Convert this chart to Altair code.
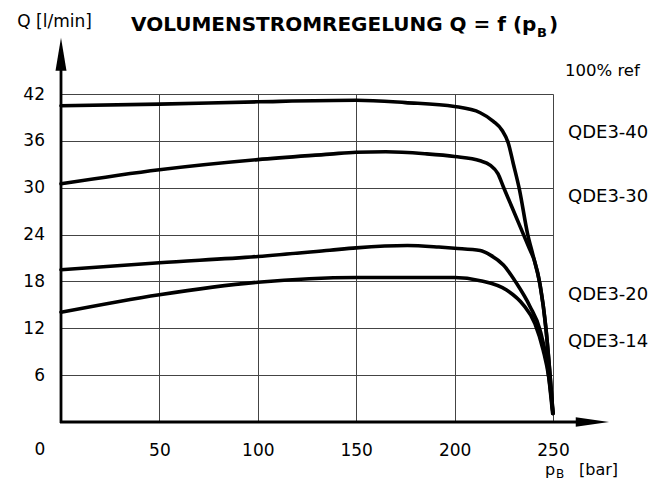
import altair as alt
import pandas as pd

# ---- data ----
p40 = [0, 50, 100, 150, 175, 200, 213, 219.7, 224, 227.3, 229.8, 233, 237, 240, 243.4, 246.4, 248.5, 250]
q40 = [40.5, 40.7, 41.0, 41.2, 40.9, 40.4, 39.6, 38.5, 37.4, 35.7, 33.1, 29.7, 24.2, 21.2, 17.6, 12.0, 6.0, 1.1]

p30 = [0, 50, 100, 136.6, 150, 165, 185, 200, 213, 218, 222, 224.8, 229, 234, 238, 240.5, 243.4, 246.4, 248.5, 250]
q30 = [30.5, 32.3, 33.6, 34.3, 34.55, 34.6, 34.35, 34.0, 33.45, 32.9, 31.8, 30.1, 27.6, 24.6, 22.2, 20.7, 17.6, 12.0, 6.0, 1.1]

p20 = [0, 50, 100, 136.6, 150, 176, 192, 200, 213, 218, 224.8, 231.5, 238.3, 243.4, 247, 249.8]
q20 = [19.5, 20.4, 21.2, 22.0, 22.3, 22.6, 22.4, 22.25, 21.95, 21.4, 20.1, 17.75, 14.8, 11.8, 7.5, 1.1]

p14 = [0, 50, 100, 150, 200, 213, 226.4, 234.9, 240.8, 245, 248, 250]
q14 = [14.05, 16.3, 17.9, 18.5, 18.5, 18.1, 16.9, 15.0, 12.6, 9.2, 5.5, 1.1]

series_names = ["QDE3-40", "QDE3-30", "QDE3-20", "QDE3-14"]
x_ticks = [0, 50, 100, 150, 200, 250]
y_ticks = [6, 12, 18, 24, 30, 36, 42]

rows = []
for name, ps, qs in zip(series_names, [p40, p30, p20, p14], [q40, q30, q20, q14]):
    for p, q in zip(ps, qs):
        rows.append({"series": name, "p": p, "q": q})
df = pd.DataFrame(rows)

W, H = 492, 328
FONT = "DejaVu Sans"
one = pd.DataFrame({"a": [0]})

xs = alt.Scale(domain=[0, 250], nice=False, zero=False)
ys = alt.Scale(domain=[0, 42], nice=False, zero=False)

curves = alt.Chart(df).mark_line(
    color="black", strokeWidth=3.6, interpolate="monotone", strokeCap="round"
).encode(
    x=alt.X("p:Q", scale=xs, axis=alt.Axis(
        values=x_ticks, grid=True, gridColor="#444", gridWidth=1,
        domain=False, ticks=False, tickSize=0, labelFont=FONT, labelFontSize=17,
        labelColor="black", labelPadding=33, labelBaseline="alphabetic",
        labelFlush=False, labelOverlap=False,
        labelExpr="datum.value == 0 ? '' : datum.label", title=None)),
    y=alt.Y("q:Q", scale=ys, axis=alt.Axis(
        values=y_ticks, grid=True, gridColor="#444", gridWidth=1,
        domain=False, ticks=False, tickSize=0, labelFont=FONT, labelFontSize=17,
        labelColor="black", labelPadding=16.5, labelOverlap=False, title=None)),
    detail="series:N",
)

yaxis = alt.Chart(one).mark_rule(color="black", strokeWidth=2.8).encode(
    x=alt.value(0), y=alt.value(H + 1), y2=alt.value(-25))
xaxis = alt.Chart(one).mark_rule(color="black", strokeWidth=2.8).encode(
    x=alt.value(-1), x2=alt.value(517), y=alt.value(H))

yarrow = alt.Chart(one).mark_point(
    shape="M0,-1L0.333,1L-0.333,1Z", size=1089, filled=True, opacity=1,
    color="black", strokeWidth=0).encode(x=alt.value(0), y=alt.value(-39.8))
xarrow = alt.Chart(one).mark_point(
    shape="M1,0L-1,-0.28L-1,0.28Z", size=1109, filled=True, opacity=1,
    color="black", strokeWidth=0).encode(x=alt.value(531.4), y=alt.value(H))


def txt(s, x, y, size=17, weight="normal", align="left", baseline="alphabetic"):
    return alt.Chart(one).mark_text(
        font=FONT, fontSize=size, fontWeight=weight, align=align,
        baseline=baseline, color="black").encode(
        x=alt.value(x), y=alt.value(y), text=alt.value(s))


texts = [
    txt("VOLUMENSTROMREGELUNG Q = f (p", 70, -63, 20, "bold"),
    txt("B", 476, -57, 13, "bold"),
    txt(")", 488, -63, 20, "bold"),
    txt("Q [l/min]", -43.7, -67.3, 17),
    txt("100% ref", 504, -18, 16.5),
    txt("0", -21, H + 33, 17, align="center"),
    txt("p", 484, 381, 16),
    txt("B", 495, 384, 12),
    txt("[bar]", 518, 381, 16),
]
lab_base = [44, 108, 206, 252.7]
for name, b in zip(series_names, lab_base):
    texts.append(txt(name, 507, b, 18))

chart = alt.layer(curves, yaxis, xaxis, yarrow, xarrow, *texts).properties(
    width=W, height=H,
    padding={"left": 53, "top": 86, "right": 108, "bottom": 59},
    autosize="none",
).configure_view(strokeWidth=0).configure(background="white")

chart.save("out.html", embed_options={"renderer": "svg", "actions": False})
